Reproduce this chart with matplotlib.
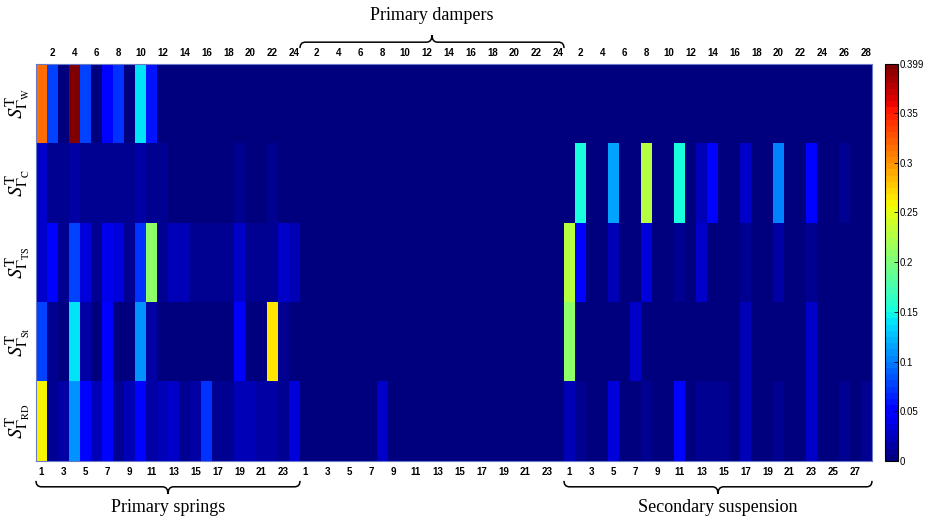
import numpy as np
import matplotlib
matplotlib.use('Agg')
import matplotlib.pyplot as plt
from matplotlib.path import Path
from matplotlib.patches import PathPatch
import matplotlib.transforms as mtransforms

plt.rcParams['font.family'] = ['Liberation Sans', 'DejaVu Sans']
plt.rcParams['mathtext.fontset'] = 'stix'

# total-order sensitivity indices, one list per parameter and component group
w_springs = [0.315, 0.08, 0.004, 0.399, 0.08, 0.004, 0.055, 0.07, 0.004, 0.14, 0.06, 0.003,
             0.003, 0.003, 0.003, 0.003, 0.003, 0.003, 0.003, 0.003, 0.003, 0.003, 0.003, 0.003]
w_dampers = [0.003] * 24
w_secondary = [0.003] * 28

c_springs = [0.03, 0.008, 0.008, 0.016, 0.01, 0.01, 0.012, 0.01, 0.01, 0.013, 0.008, 0.008,
             0.006, 0.006, 0.006, 0.006, 0.006, 0.006, 0.012, 0.006, 0.006, 0.012, 0.006, 0.006]
c_dampers = [0.004] * 24
c_secondary = [0.005, 0.15, 0.005, 0.005, 0.115, 0.005, 0.005, 0.226, 0.005, 0.005, 0.155, 0.005,
               0.02, 0.05, 0.005, 0.005, 0.025, 0.005, 0.005, 0.105, 0.005, 0.005, 0.056, 0.005,
               0.005, 0.012, 0.005, 0.005]

ts_springs = [0.03, 0.05, 0.008, 0.075, 0.035, 0.008, 0.04, 0.035, 0.008, 0.07, 0.208, 0.008,
              0.02, 0.02, 0.008, 0.008, 0.008, 0.008, 0.025, 0.01, 0.01, 0.01, 0.03, 0.02]
ts_dampers = [0.005] * 24
ts_secondary = [0.226, 0.052, 0.005, 0.005, 0.02, 0.005, 0.005, 0.035, 0.005, 0.005, 0.012, 0.005,
                0.028, 0.005, 0.005, 0.005, 0.012, 0.005, 0.005, 0.015, 0.005, 0.005, 0.012, 0.005,
                0.005, 0.005, 0.005, 0.005]

st_springs = [0.08, 0.01, 0.005, 0.14, 0.015, 0.005, 0.045, 0.005, 0.005, 0.11, 0.015, 0.005,
              0.005, 0.005, 0.005, 0.005, 0.005, 0.005, 0.045, 0.005, 0.005, 0.265, 0.008, 0.005]
st_dampers = [0.005] * 24
st_secondary = [0.208, 0.005, 0.005, 0.005, 0.005, 0.005, 0.028, 0.005, 0.005, 0.005, 0.005, 0.005,
                0.005, 0.005, 0.005, 0.005, 0.02, 0.005, 0.005, 0.005, 0.005, 0.005, 0.028, 0.005,
                0.005, 0.005, 0.005, 0.005]

rd_springs = [0.257, 0.01, 0.015, 0.11, 0.05, 0.02, 0.05, 0.012, 0.02, 0.05, 0.015, 0.02,
              0.025, 0.01, 0.015, 0.07, 0.008, 0.008, 0.02, 0.02, 0.013, 0.018, 0.008, 0.035]
rd_dampers = [0.005] * 7 + [0.03] + [0.005] * 16
rd_secondary = [0.02, 0.012, 0.005, 0.005, 0.035, 0.005, 0.005, 0.012, 0.005, 0.005, 0.052, 0.005,
                0.01, 0.01, 0.008, 0.005, 0.02, 0.005, 0.005, 0.012, 0.005, 0.005, 0.03, 0.005,
                0.005, 0.012, 0.005, 0.012]

row_labels = [r'$S^{\mathrm{T}}_{\Gamma_{\mathrm{W}}}$', r'$S^{\mathrm{T}}_{\Gamma_{\mathrm{C}}}$',
              r'$S^{\mathrm{T}}_{\Gamma_{\mathrm{TS}}}$', r'$S^{\mathrm{T}}_{\Gamma_{\mathrm{St}}}$',
              r'$S^{\mathrm{T}}_{\Gamma_{\mathrm{RD}}}$']
group_names = ['Primary springs', 'Primary dampers', 'Secondary suspension']
group_sizes = [24, 24, 28]
cbar_ticks = [0, 0.05, 0.1, 0.15, 0.2, 0.25, 0.3, 0.35, 0.399]
vmax = 0.399

rows = [
    w_springs + w_dampers + w_secondary,
    c_springs + c_dampers + c_secondary,
    ts_springs + ts_dampers + ts_secondary,
    st_springs + st_dampers + st_secondary,
    rd_springs + rd_dampers + rd_secondary,
]
data = np.array(rows)

fig = plt.figure(figsize=(9.3, 5.23), dpi=100)
ax = fig.add_axes([36 / 930, 62 / 523, 836 / 930, 397 / 523])
im = ax.imshow(data, cmap=plt.get_cmap('jet', 64), vmin=0, vmax=vmax,
               aspect='auto', interpolation='nearest')

# odd numbers below, even numbers above, restarting for each group
offsets = np.cumsum([0] + group_sizes[:-1])
bot_pos, bot_lab, top_pos, top_lab = [], [], [], []
for off, n in zip(offsets, group_sizes):
    for k in range(1, n + 1):
        if k % 2:
            bot_pos.append(off + k - 1)
            bot_lab.append(str(k))
        else:
            top_pos.append(off + k - 1)
            top_lab.append(str(k))

ax.set_xticks(bot_pos)
ax.set_xticklabels(bot_lab, fontsize=7, fontweight='bold')
ax.tick_params(axis='x', length=0, pad=4)
top = ax.secondary_xaxis('top')
top.set_xticks(top_pos)
top.set_xticklabels(top_lab, fontsize=7, fontweight='bold')
top.tick_params(axis='x', length=0, pad=4)
for s in top.spines.values():
    s.set_visible(False)

ax.set_yticks(range(len(row_labels)))
ax.set_yticklabels(row_labels, rotation=90, va='center', fontsize=15)
ax.tick_params(axis='y', length=0, pad=3)
for s in ax.spines.values():
    s.set_color('#6a78c8')
    s.set_linewidth(0.8)

# curly braces grouping the columns
trans = mtransforms.blended_transform_factory(ax.transData, ax.transAxes)


def brace(x0, x1, y_end, y_mid, y_tip, label, y_text):
    xm = (x0 + x1) / 2
    d = 0.5
    verts = [(x0, y_end), (x0, y_mid), (x0 + d, y_mid),
             (xm - d, y_mid), (xm, y_mid), (xm, y_tip),
             (xm, y_mid), (xm + d, y_mid),
             (x1 - d, y_mid), (x1, y_mid), (x1, y_end)]
    codes = [Path.MOVETO, Path.CURVE3, Path.CURVE3,
             Path.LINETO, Path.CURVE3, Path.CURVE3,
             Path.CURVE3, Path.CURVE3,
             Path.LINETO, Path.CURVE3, Path.CURVE3]
    ax.add_patch(PathPatch(Path(verts, codes), fill=False, lw=1.1, color='black',
                           transform=trans, clip_on=False))
    ax.text(xm, y_text, label, transform=trans, ha='center', va='center',
            fontsize=13, family=['Liberation Serif', 'DejaVu Serif'])


edges = np.cumsum([0] + group_sizes) - 0.5
brace(edges[0], edges[1], -0.050, -0.065, -0.083, group_names[0], -0.118)
brace(edges[1], edges[2], 1.040, 1.055, 1.073, group_names[1], 1.123)
brace(edges[2], edges[3], -0.050, -0.065, -0.083, group_names[2], -0.118)

cax = fig.add_axes([885 / 930, 62 / 523, 13 / 930, 397 / 523])
cb = fig.colorbar(im, cax=cax, ticks=cbar_ticks)
cb.ax.set_yticklabels([f'{t:g}' for t in cbar_ticks], fontsize=7)
cb.ax.tick_params(direction='in', length=3, width=0.6, pad=1)
cb.outline.set_linewidth(0.8)

fig.savefig('out.png', dpi=100)
